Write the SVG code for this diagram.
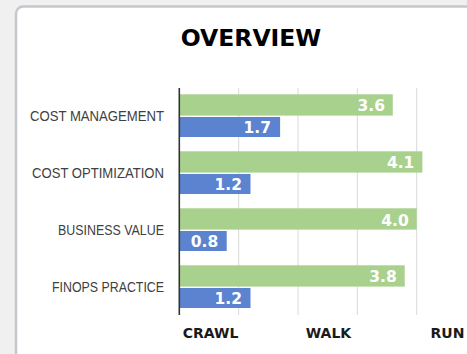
<svg xmlns="http://www.w3.org/2000/svg" width="467" height="354" viewBox="0 0 467 354">
<style>
.cat{font-family:"Liberation Sans",Arial,sans-serif;font-size:14.8px;fill:#404040;text-anchor:end}
.val{font-family:"DejaVu Sans",sans-serif;font-weight:bold;font-size:15.5px;fill:#ffffff;text-anchor:end}
.ax{font-family:"DejaVu Sans",sans-serif;font-weight:bold;font-size:14px;fill:#1a1a1a;text-anchor:middle}
.g{fill:#A9D18E}
.b{fill:#5B83CF}
.grid{stroke:#d9d9d9;stroke-width:1}
</style>
<rect x="0" y="0" width="467" height="354" fill="#f0f0f0"/>
<rect x="16" y="6.5" width="470" height="370" rx="7" fill="#ffffff" stroke="#c4c8cc" stroke-width="2.5"/>
<text x="251" y="46" font-family="DejaVu Sans, sans-serif" font-weight="bold" font-size="23.5" text-anchor="middle" fill="#000">OVERVIEW</text>
<g id="gridlines">
<line class="grid" x1="238.7" y1="88" x2="238.7" y2="315"/>
<line class="grid" x1="298" y1="88" x2="298" y2="315"/>
<line class="grid" x1="357.3" y1="88" x2="357.3" y2="315"/>
<line class="grid" x1="416.7" y1="88" x2="416.7" y2="315"/>
</g>
<g id="cost-management">
<rect class="g" x="179.3" y="94.3" width="213.5" height="21.3"/>
<rect class="b" x="179.3" y="117" width="100.8" height="20"/>
<text class="cat" x="164" y="121" textLength="134" lengthAdjust="spacingAndGlyphs">COST MANAGEMENT</text>
<text class="val" x="385" y="111">3.6</text>
<text class="val" x="271" y="133">1.7</text>
</g>
<g id="cost-optimization">
<rect class="g" x="179.3" y="151.3" width="243.1" height="21.3"/>
<rect class="b" x="179.3" y="174" width="71.2" height="20"/>
<text class="cat" x="164" y="178" textLength="132" lengthAdjust="spacingAndGlyphs">COST OPTIMIZATION</text>
<text class="val" x="414.4" y="168">4.1</text>
<text class="val" x="242" y="190">1.2</text>
</g>
<g id="business-value">
<rect class="g" x="179.3" y="208.3" width="237.4" height="21.3"/>
<rect class="b" x="179.3" y="231" width="47.4" height="20"/>
<text class="cat" x="164" y="234.5" textLength="106" lengthAdjust="spacingAndGlyphs">BUSINESS VALUE</text>
<text class="val" x="408.7" y="225.5">4.0</text>
<text class="val" x="218.3" y="246.5">0.8</text>
</g>
<g id="finops-practice">
<rect class="g" x="179.3" y="265.3" width="225.4" height="21.3"/>
<rect class="b" x="179.3" y="288" width="71.2" height="20"/>
<text class="cat" x="164" y="291.5" textLength="112" lengthAdjust="spacingAndGlyphs">FINOPS PRACTICE</text>
<text class="val" x="396.7" y="282">3.8</text>
<text class="val" x="242" y="304">1.2</text>
</g>
<g id="axis">
<line x1="179.3" y1="88" x2="179.3" y2="315" stroke="#333" stroke-width="1.6"/>
<text class="ax" x="210.5" y="338">CRAWL</text>
<text class="ax" x="328.5" y="338">WALK</text>
<text class="ax" x="447.5" y="338">RUN</text>
</g>
</svg>
